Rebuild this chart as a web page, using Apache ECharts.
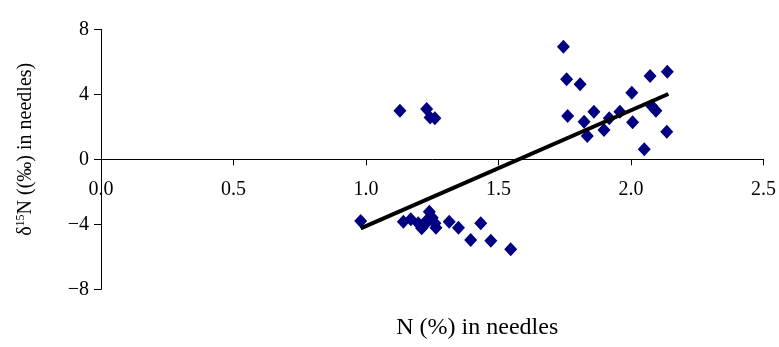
<!DOCTYPE html>
<html><head><meta charset="utf-8">
<script src="https://cdn.jsdelivr.net/npm/echarts@6/dist/echarts.min.js"></script>
<style>html,body{margin:0;padding:0;background:#fff}#c{width:779px;height:347px}</style>
</head><body><div id="c"></div>
<script>
// N (%) in needles
const nValues = [1.128,1.229,1.242,1.260,1.745,1.757,1.808,1.761,1.823,1.860,1.835,1.898,1.918,1.958,2.003,2.006,2.072,2.137,2.078,2.094,2.135,2.050,
  0.980,1.141,1.169,1.197,1.210,1.239,1.231,1.260,1.264,1.314,1.349,1.433,1.395,1.471,1.546,1.220,1.250];
// delta 15N (‰) in needles
const d15Values = [2.99,3.10,2.58,2.52,6.93,4.92,4.62,2.66,2.31,2.93,1.43,1.80,2.52,2.93,4.10,2.28,5.13,5.39,3.28,2.99,1.70,0.62,
  -3.80,-3.84,-3.69,-3.94,-4.25,-3.22,-3.74,-3.94,-4.21,-3.84,-4.21,-3.94,-4.97,-5.01,-5.54,-4.05,-3.60];
// trend line end points
const trendX = [0.98, 2.141];
const trendY = [-4.25, 4.02];
const xTicks = [0, 0.5, 1.0, 1.5, 2.0, 2.5];
const yTicks = [-8, -4, 0, 4, 8];

const font = '"Liberation Serif", "Times New Roman", serif';
const W = 779, H = 347;
const gridTop = 29.3, gridBottom = 57.7;
const chart = echarts.init(document.getElementById('c'), null, {renderer: 'canvas'});
chart.setOption({
  animation: false,
  grid: {left: 101, right: 15.5, top: gridTop, bottom: gridBottom, containLabel: false, outerBoundsMode: 'none'},
  xAxis: {
    type: 'value', min: xTicks[0], max: xTicks[xTicks.length-1], interval: 0.5,
    position: 'bottom', offset: 0,
    axisLine: {onZero: false, lineStyle: {color: '#000', width: 1}},
    axisTick: {show: true, inside: false, length: 6, lineStyle: {color: '#000'}},
    axisLabel: {color: '#000', fontFamily: font, fontSize: 20, margin: 20, formatter: v => v.toFixed(1)},
    splitLine: {show: false},
    name: 'N (%) in needles', nameLocation: 'middle', nameGap: 156,
    nameTextStyle: {color: '#000', fontFamily: font, fontSize: 24, padding: [0, 0, 0, 90]}
  },
  yAxis: {
    type: 'value', min: yTicks[0], max: yTicks[yTicks.length-1], interval: 4,
    axisLine: {show: true, onZero: false, lineStyle: {color: '#000', width: 1}},
    axisTick: {show: true, inside: false, length: 7, lineStyle: {color: '#000'}},
    axisLabel: {color: '#000', fontFamily: font, fontSize: 20, margin: 12, formatter: v => String(v).replace('-', '\u2212')},
    splitLine: {show: false},
    name: '{a|δ}{s|15}{a|N ((‰) in needles)}', nameLocation: 'middle', nameGap: 64, nameRotate: 90,
    nameTextStyle: {color: '#000', fontFamily: font, fontSize: 20, padding: [0, 0, 0, 20],
      rich: {a: {fontFamily: font, fontSize: 20, color: '#000', lineHeight: 22},
             s: {fontFamily: font, fontSize: 12, color: '#000', verticalAlign: 'top', lineHeight: 22}}}
  },
  series: [
    {type: 'scatter', data: nValues.map((x, i) => [x, d15Values[i]]), symbol: 'diamond', symbolSize: [13, 14],
     itemStyle: {color: '#000080', opacity: 1}, z: 2},
    {type: 'line', data: trendX.map((x, i) => [x, trendY[i]]), symbol: 'none',
     lineStyle: {color: '#000', width: 4}, z: 3}
  ]
});
// move the x axis to y = 0 using the y scale
const yZeroPx = chart.convertToPixel({yAxisIndex: 0}, 0);
const bottomPx = H - gridBottom;
chart.setOption({xAxis: {offset: yZeroPx - bottomPx}});
</script></body></html>
